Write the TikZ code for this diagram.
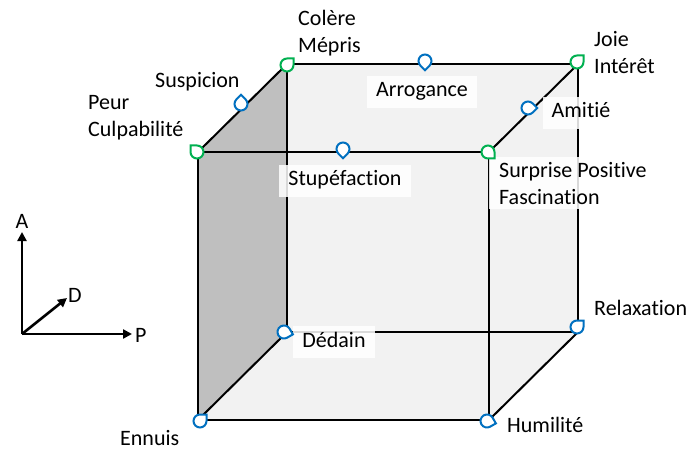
\documentclass[tikz,border=0pt]{standalone}
\usepackage{fontspec}
\setmainfont{Carlito}[Ligatures=NoCommon]
\usetikzlibrary{arrows.meta}
\definecolor{tgreen}{HTML}{00B050}
\definecolor{tblue}{HTML}{0070C0}
\definecolor{facegray}{HTML}{BFBFBF}
\definecolor{lightface}{HTML}{F2F2F2}
\tikzset{
  edge/.style={line width=2pt, line cap=round},
  axisarrow/.style={line width=2.6pt, -{Triangle[length=9pt,width=9pt]}},
  lbl/.style={font=\fontsize{22}{27}\selectfont, inner sep=0pt, text height=15pt, text depth=5pt},
  boxlbl/.style={lbl, fill=white, fill opacity=0.85, text opacity=1, inner xsep=9pt, inner ysep=6pt},
  tear/.pic={\draw[line width=2pt, draw=#1, fill=white]
     (0,6.5) arc[start angle=90, end angle=360, radius=6.5] -- (6.5,6.5) -- cycle;}
}
\begin{document}
\begin{tikzpicture}[x=1pt,y=1pt]
\useasboundingbox (0,0) rectangle (692,450);
% cube vertices
\coordinate (FTL) at (198,298);
\coordinate (FTR) at (489,298);
\coordinate (FBL) at (198,30);
\coordinate (FBR) at (489,30);
\coordinate (BTL) at (287,386);
\coordinate (BTR) at (578,386);
\coordinate (BBL) at (287,118);
\coordinate (BBR) at (578,118);
% fills
\fill[lightface] (FBL) -- (FBR) -- (BBR) -- (BTR) -- (BTL) -- (FTL) -- cycle;
\fill[facegray] (FTL) -- (BTL) -- (BBL) -- (FBL) -- cycle;
% back edges
\draw[edge] (BTL) -- (BTR);
\draw[edge] (BTR) -- (BBR);
\draw[edge] (BBR) -- (BBL);
\draw[edge] (BBL) -- (BTL);
% depth edges
\draw[edge] (FTL) -- (BTL);
\draw[edge] (FTR) -- (BTR);
\draw[edge] (FBL) -- (BBL);
\draw[edge] (FBR) -- (BBR);
% front edges
\draw[edge] (FTL) -- (FTR);
\draw[edge] (FTR) -- (FBR);
\draw[edge] (FBR) -- (FBL);
\draw[edge] (FBL) -- (FTL);
% boxed labels
\node[boxlbl, anchor=base] (arrogance) at (422,353) {Arrogance};
\node[boxlbl, anchor=base] (stupe) at (345,264) {Stupéfaction};
\node[boxlbl, anchor=base] (amitie) at (581,332) {Amitié};
\node[boxlbl, anchor=base] (dedain) at (334,103) {Dédain};
\node[font=\fontsize{22}{27}\selectfont, align=left, anchor=north west, fill=white, fill opacity=0.85, text opacity=1, inner xsep=10pt, inner ysep=5pt] (surprise) at (489,293) {Surprise Positive\\Fascination};
% plain labels
\node[lbl, anchor=base west] (colere) at (298,424) {Colère};
\node[lbl, anchor=base west] (mepris) at (298,397) {Mépris};
\node[lbl, anchor=base west] (suspicion) at (155,362) {Suspicion};
\node[lbl, anchor=base west] (peur) at (88,340) {Peur};
\node[lbl, anchor=base west] (culpa) at (88,313) {Culpabilité};
\node[lbl, anchor=base west] (joie) at (594,403) {Joie};
\node[lbl, anchor=base west] (interet) at (594,376) {Intérêt};
\node[lbl, anchor=base west] (relax) at (594,135) {Relaxation};
\node[lbl, anchor=base west, text depth=0pt] (ennuis) at (120,5) {Ennuis};
\node[lbl, anchor=base west] (humilite) at (507,18) {Humilité};
% markers
\pic[rotate=90] at (197,298) {tear=tgreen};
\pic[rotate=0] at (287,385) {tear=tgreen};
\pic[rotate=45] at (241,346) {tear=tblue};
\pic[rotate=225] at (425,389) {tear=tblue};
\pic[rotate=0] at (577,388) {tear=tgreen};
\pic[rotate=-45] at (528,342) {tear=tblue};
\pic[rotate=270] at (488,298) {tear=tgreen};
\pic[rotate=225] at (343,301) {tear=tblue};
\pic[rotate=-60] at (284,118) {tear=tblue};
\pic[rotate=0] at (577,123) {tear=tblue};
\pic[rotate=0] at (200,29) {tear=tblue};
\pic[rotate=-60] at (487,29) {tear=tblue};
% axes
\coordinate (O) at (22,116);
\coordinate (Aend) at (22,218);
\coordinate (Pend) at (132,116);
\coordinate (Dend) at (67,152);
\draw[axisarrow] (O) -- (Aend);
\draw[axisarrow] (O) -- (Pend);
\draw[axisarrow] (O) -- (Dend);
\node[lbl, anchor=base] (A) at (22,222) {A};
\node[lbl, anchor=base west] (D) at (68,148) {D};
\node[lbl, anchor=base west] (P) at (135,108) {P};
\end{tikzpicture}
\end{document}
